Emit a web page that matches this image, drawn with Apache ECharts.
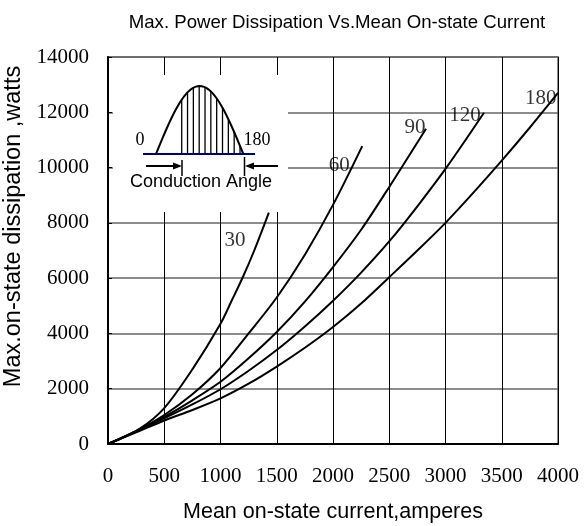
<!DOCTYPE html>
<html><head><meta charset="utf-8">
<script src="https://cdn.jsdelivr.net/npm/echarts@6/dist/echarts.min.js"></script>
<style>html,body{margin:0;padding:0;background:#fff}#c{width:584px;height:526px}</style>
</head><body><div id="c"></div>
<script>
var xTicks = [0,500,1000,1500,2000,2500,3000,3500,4000];
var yTicks = [0,2000,4000,6000,8000,10000,12000,14000];
var curve30 = [[0,0],[280,550],[500,1300],[750,2700],[1000,4350],[1100,5190],[1200,6050],[1300,7000],[1430,8370]];
var curve60 = [[0,0],[250,470],[500,1050],[750,1800],[1000,2750],[1250,4000],[1500,5300],[1750,6850],[2000,8650],[2260,10775]];
var curve90 = [[0,0],[250,460],[500,980],[750,1580],[1000,2250],[1250,3100],[1500,4050],[1750,5150],[2000,6400],[2250,7750],[2500,9300],[2827,11404]];
var curve120 = [[0,0],[250,450],[500,930],[750,1430],[1000,1980],[1250,2650],[1514,3444],[1750,4250],[2003,5192],[2250,6200],[2507,7363],[2750,8600],[3011,10015],[3342,11983]];
var curve180 = [[0,0],[250,420],[500,850],[750,1230],[1000,1650],[1250,2180],[1500,2800],[1750,3480],[2000,4230],[2250,5080],[2500,6035],[2750,7000],[3000,8000],[3250,9100],[3500,10250],[3750,11450],[4000,12700]];
var curveNames = ['30','60','90','120','180'];
var labelPos = [[1129,7363],[2056,10076],[2729,11462],[3173,11885],[3846,12489]];

var chart = echarts.init(document.getElementById('c'));
var serif = 'Liberation Serif';
var sans = 'Liberation Sans';
var gl = 108, gt = 57, gw = 450, gh = 387;

// inset illustration (decorative)
var base = 154, hx0 = 156, hx1 = 243.3, amp = 68;
function hump(x){ return base - amp*Math.sin(Math.PI*(x-hx0)/(hx1-hx0)); }
var humpPts = [];
for (var i=0;i<=40;i++){ var x = hx0 + (hx1-hx0)*i/40; humpPts.push([x, hump(x)]); }
var gfx = [
  {type:'rect', shape:{x:113,y:75,width:175,height:137}, style:{fill:'#fff'}, z:100},
  {type:'polyline', shape:{points:humpPts}, style:{stroke:'#000', lineWidth:2, fill:null}, z:101},
  {type:'line', shape:{x1:143,y1:base,x2:255,y2:base}, style:{stroke:'#000080', lineWidth:2}, z:102},
  {type:'text', x:140, y:140, style:{text:'0', font:'18px '+serif, fill:'#000', textAlign:'center', textVerticalAlign:'middle'}, z:101},
  {type:'text', x:257, y:140, style:{text:'180', font:'18px '+serif, fill:'#000', textAlign:'center', textVerticalAlign:'middle'}, z:101},
  {type:'text', x:201, y:182, style:{text:'Conduction Angle', font:'18px '+sans, fill:'#000', textAlign:'center', textVerticalAlign:'middle'}, z:101},
  {type:'line', shape:{x1:146,y1:166,x2:174,y2:166}, style:{stroke:'#000', lineWidth:2}, z:101},
  {type:'polygon', shape:{points:[[182,166],[173,162.5],[173,169.5]]}, style:{fill:'#000'}, z:101},
  {type:'line', shape:{x1:182,y1:160,x2:182,y2:176}, style:{stroke:'#000', lineWidth:1.5}, z:101},
  {type:'line', shape:{x1:278,y1:166,x2:252,y2:166}, style:{stroke:'#000', lineWidth:2}, z:101},
  {type:'polygon', shape:{points:[[245,166],[254,162.5],[254,169.5]]}, style:{fill:'#000'}, z:101},
  {type:'line', shape:{x1:244.5,y1:157,x2:244.5,y2:176}, style:{stroke:'#000', lineWidth:1.5}, z:101}
];
for (var k=0;k<11;k++){
  var hx = 181.7 + k*5.83;
  gfx.push({type:'line', shape:{x1:hx,y1:base,x2:hx,y2:hump(hx)}, style:{stroke:'#000', lineWidth:1.3}, z:101});
}

var allCurves = [curve30, curve60, curve90, curve120, curve180];
var series = allCurves.map(function(d, i){
  return {type:'line', name:curveNames[i], data:d, smooth:0.3, symbol:'none', lineStyle:{color:'#000', width:2}, z:5};
});
series.push({
  type:'scatter', symbolSize:0, silent:true, z:6,
  data: labelPos.map(function(p,i){ return {value:p, name:curveNames[i]}; }),
  label:{show:true, position:'inside', formatter:function(p){return p.name;}, fontFamily:serif, fontSize:21, color:'#000'}
});

chart.setOption({
  animation:false,
  title:{text:'Max. Power Dissipation Vs.Mean On-state Current', left:332, top:8, textAlign:'center',
    textStyle:{fontFamily:sans, fontSize:18.6, fontWeight:'normal', color:'#000'}},
  grid:{left:gl, top:gt, width:gw, height:gh, containLabel:false, outerBoundsMode:'none', show:true, borderColor:'#888', borderWidth:2, backgroundColor:'#fff'},
  xAxis:{type:'value', min:0, max:4000, interval:500,
    name:'Mean on-state current,amperes', nameLocation:'middle', nameGap:57,
    nameTextStyle:{fontFamily:sans, fontSize:21.5, color:'#000'},
    axisLine:{show:true, onZero:false, lineStyle:{color:'#000', width:2}},
    axisTick:{show:true, inside:true, length:4, lineStyle:{color:'#000'}},
    axisLabel:{fontFamily:serif, fontSize:21, color:'#000', margin:22, formatter:function(v){return String(v);}},
    splitLine:{show:true, lineStyle:{color:'#000', width:1}}},
  yAxis:{type:'value', min:0, max:14000, interval:2000,
    name:'Max.on-state dissipation ,watts', nameLocation:'middle', nameGap:79,
    nameTextStyle:{fontFamily:sans, fontSize:23.5, color:'#000', padding:[0,0,0,48]},
    axisLine:{show:true, onZero:false, lineStyle:{color:'#000', width:2}},
    axisTick:{show:true, inside:true, length:4, lineStyle:{color:'#000'}},
    axisLabel:{fontFamily:serif, fontSize:21, color:'#000', margin:19, formatter:function(v){return String(v);}},
    splitLine:{show:true, lineStyle:{color:'#666', width:1.5}}},
  graphic:gfx,
  series:series
});
</script></body></html>
